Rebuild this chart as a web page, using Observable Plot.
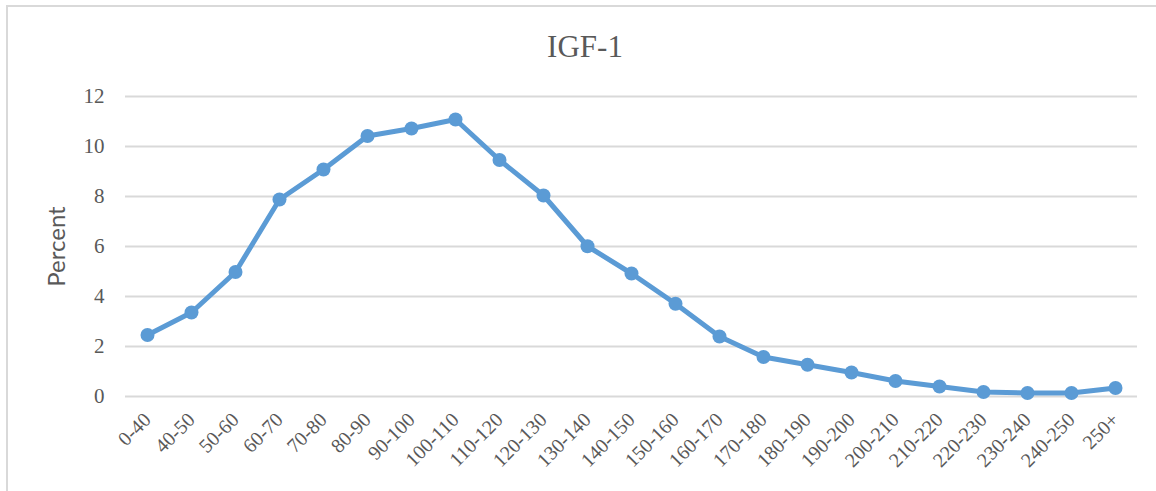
<!DOCTYPE html>
<html>
<head>
<meta charset="utf-8">
<script src="https://cdn.jsdelivr.net/npm/d3@7"></script>
<script src="https://cdn.jsdelivr.net/npm/@observablehq/plot@0.6"></script>
<style>
  html, body { margin: 0; padding: 0; background: #fff; width: 1156px; height: 491px; overflow: hidden; }
  #frame { position: absolute; left: 6px; top: 5px; width: 1170px; height: 500px; border-left: 2px solid #d9d9d9; border-top: 2px solid #d9d9d9; box-sizing: border-box; }
  #title { position: absolute; left: 0; width: 1170px; top: 31px; text-align: center; font-family: "Liberation Serif", serif; font-size: 31px; line-height: 1; color: #595959; }
  #chart { position: absolute; left: 0; top: 60px; }
</style>
</head>
<body>
<div id="frame"></div>
<div id="title">IGF-1</div>
<div id="chart"></div>
<script>
const categories = ["0-40","40-50","50-60","60-70","70-80","80-90","90-100","100-110","110-120","120-130","130-140","140-150","150-160","160-170","170-180","180-190","190-200","200-210","210-220","220-230","230-240","240-250","250+"];
const percent = [2.46, 3.36, 4.98, 7.88, 9.08, 10.42, 10.72, 11.08, 9.46, 8.04, 6.01, 4.92, 3.71, 2.4, 1.58, 1.27, 0.96, 0.62, 0.4, 0.18, 0.14, 0.14, 0.34];
const yTicks = [0, 2, 4, 6, 8, 10, 12];

const data = categories.map((c, i) => ({cat: c, v: percent[i]}));
const gray = "#595959";
const blue = "#5B9BD5";

const chart = Plot.plot({
  width: 1156,
  height: 431,
  marginTop: 36,
  marginBottom: 95,
  marginLeft: 125,
  marginRight: 19,
  style: {background: "transparent", color: gray},
  x: {type: "point", domain: categories, padding: 0.5, label: null},
  y: {domain: [0, 12], label: null},
  marks: [
    Plot.gridY(yTicks, {stroke: "#d9d9d9", strokeOpacity: 1, strokeWidth: 2}),
    Plot.axisY(yTicks, {tickSize: 0, tickPadding: 21, fontSize: 21, fontFamily: "Liberation Serif", fill: gray, label: null}),
    Plot.axisX({tickSize: 0, tickPadding: 20, tickRotate: -45, fontSize: 20, fontFamily: "Liberation Serif", fill: gray, label: null}),
    Plot.text(["Percent"], {frameAnchor: "left", textAnchor: "middle", rotate: -90, dx: -68, fontSize: 24, fontFamily: "Lato", fill: gray}),
    Plot.line(data, {x: "cat", y: "v", stroke: blue, strokeWidth: 5}),
    Plot.dot(data, {x: "cat", y: "v", r: 7, fill: blue, stroke: "none"})
  ]
});
document.getElementById("chart").appendChild(chart);
</script>
</body>
</html>
